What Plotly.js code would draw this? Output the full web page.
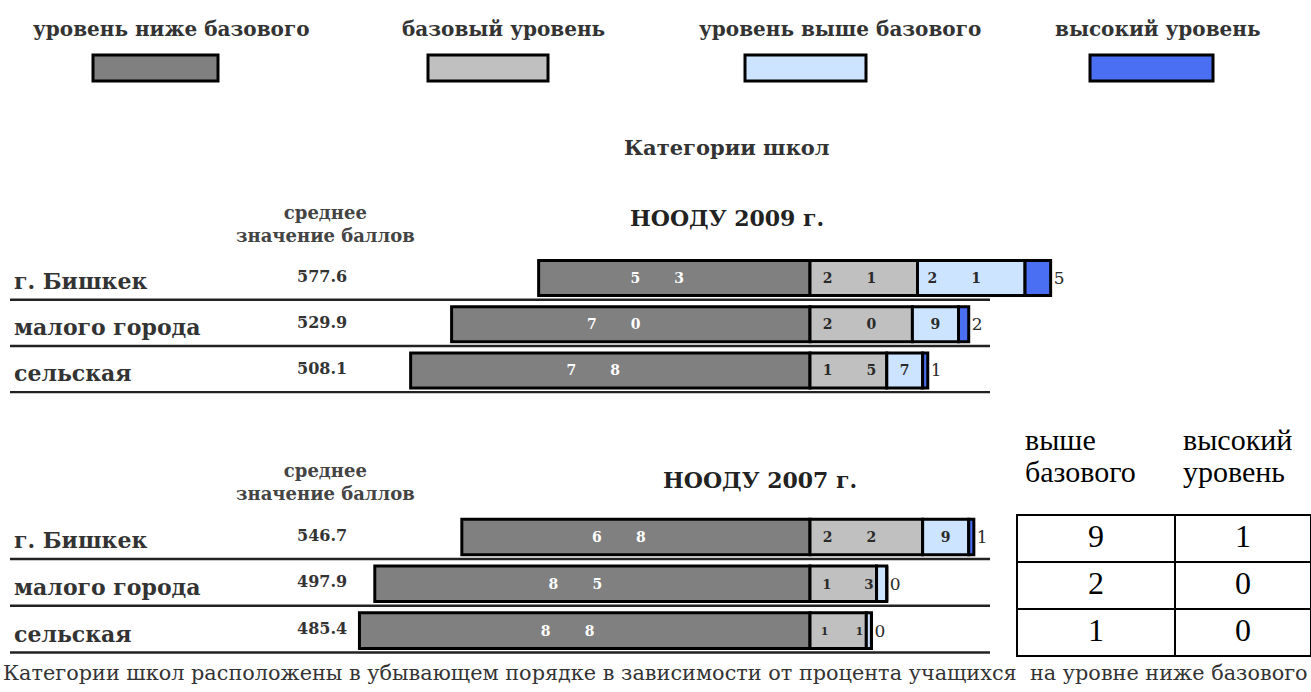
<!DOCTYPE html>
<html>
<head>
<meta charset="utf-8">
<script src="https://cdn.plot.ly/plotly-3.0.1.min.js"></script>
<style>html,body{margin:0;padding:0;background:#fff;}#chart{width:1311px;height:692px;}</style>
</head>
<body>
<div id="chart"></div>
<script>
// ---- data ----
const categories = ['г. Бишкек', 'малого города', 'сельская'];
const levelNames = ['уровень ниже базового', 'базовый уровень', 'уровень выше базового', 'высокий уровень'];
const below2009 = [53, 70, 78];
const basic2009 = [21, 20, 15];
const above2009 = [21, 9, 7];
const high2009 = [5, 2, 1];
const mean2009 = [577.6, 529.9, 508.1];
const below2007 = [68, 85, 88];
const basic2007 = [22, 13, 11];
const above2007 = [9, 2, 1];
const high2007 = [1, 0, 0];
const mean2007 = [546.7, 497.9, 485.4];
const tableHeader = [['выше', 'базового', ''], ['высокий', 'уровень', '']];

// ---- styling ----
const W = 1311, H = 692;
const px = x => x / W;
const py = y => 1 - y / H;
const colors = ['#808080', '#c0c0c0', '#cce4ff', '#4a6ff2'];
const serif = 'DejaVu Serif';
const dark = '#2a2a2a';
const GAP = '\u00a0'.repeat(7);
// digits spread apart, as in the original labels
const spreadMid = v => v < 3 ? '' : (String(v).length > 1 ? String(v).split('').join(GAP) + GAP : String(v));
const spreadStart = v => v < 3 ? '' : '\u00a0\u00a0' + String(v).split('').join(GAP);

function seriesTraces(below, basic, above, high, xa, ya) {
  const common = {type: 'bar', orientation: 'h', y: categories, xaxis: xa, yaxis: ya,
    width: 0.76, hoverinfo: 'skip', showlegend: false, cliponaxis: false, textangle: 0};
  const line = {color: '#000', width: 3};
  return [
    Object.assign({}, common, {x: below.map(v => -v), text: below.map(spreadMid), textposition: 'inside',
      insidetextanchor: 'middle', textfont: {family: serif, size: 14, color: '#fff', weight: 'bold'},
      marker: {color: colors[0], line: line}}),
    Object.assign({}, common, {x: basic, text: basic.map(spreadStart), textposition: 'inside',
      insidetextanchor: 'start', textfont: {family: serif, size: 14, color: dark, weight: 'bold'},
      marker: {color: colors[1], line: line}}),
    Object.assign({}, common, {x: above, text: above.map(spreadMid), textposition: 'inside',
      insidetextanchor: 'middle', textfont: {family: serif, size: 14, color: dark, weight: 'bold'},
      marker: {color: colors[2], line: line}}),
    Object.assign({}, common, {x: high, text: high.map(String), textposition: 'outside',
      textfont: {family: serif, size: 17, color: dark},
      outsidetextfont: {family: serif, size: 17, color: dark},
      marker: {color: colors[3], line: line}})
  ];
}

const data = []
  .concat(seriesTraces(below2009, basic2009, above2009, high2009, 'x', 'y'))
  .concat(seriesTraces(below2007, basic2007, above2007, high2007, 'x2', 'y2'));

data.push({
  type: 'table',
  domain: {x: [px(1017), 1], y: [py(662), py(419)]},
  columnwidth: [158, 136],
  header: {values: tableHeader, align: 'left',
    height: 32, fill: {color: 'rgba(0,0,0,0)'}, line: {color: 'rgba(0,0,0,0)', width: 0},
    font: {family: 'Liberation Serif', size: 30, color: '#000'}},
  cells: {values: [above2007, high2007], align: 'center', height: 47,
    fill: {color: '#fff'}, line: {color: '#000', width: 2},
    font: {family: 'Liberation Serif', size: 32, color: '#000'}}
});

// scale: 0% at x=810px, 5.12 px per percent
const xr = [-810 / 5.12, (W - 810) / 5.12];
const axX = () => ({domain: [0, 1], range: xr, visible: false, fixedrange: true});
const axY = (dom) => ({domain: dom, type: 'category', range: [2.5, -0.5], visible: false, fixedrange: true});

const annotations = [];
const shapes = [];
function note(x, y, text, font, extra) {
  annotations.push(Object.assign({xref: 'paper', yref: 'paper', x: px(x), y: py(y), text: text,
    xanchor: 'center', yanchor: 'middle', showarrow: false, font: font}, extra || {}));
}
// legend
const legendCenters = [171, 503, 840, 1158];
const swatches = [[93, 218], [428, 548], [745, 866], [1090, 1213]];
levelNames.forEach((n, i) => {
  note(legendCenters[i], 29, n, {family: serif, size: 20, color: '#333', weight: 'bold'});
  shapes.push({type: 'rect', xref: 'paper', yref: 'paper', x0: px(swatches[i][0]), x1: px(swatches[i][1]),
    y0: py(81), y1: py(55), fillcolor: colors[i], line: {color: '#000', width: 3}});
});
note(727, 148, 'Категории школ', {family: serif, size: 21, color: '#333', weight: 'bold'});

function panel(title, titleX, titleY, headY, means, ya) {
  note(titleX, titleY, title, {family: serif, size: 22, color: '#222', weight: 'bold'});
  note(325, headY, 'среднее<br>значение баллов', {family: serif, size: 18, color: '#444', weight: 'bold'},
    {align: 'center'});
  categories.forEach((c, i) => {
    annotations.push({xref: 'paper', yref: ya, x: px(12), xanchor: 'left', yanchor: 'middle', y: c, yshift: -3,
      text: c, showarrow: false, font: {family: serif, size: 22, color: '#333', weight: 'bold'}});
    annotations.push({xref: 'paper', yref: ya, x: px(322), xanchor: 'center', yanchor: 'middle', y: c, yshift: 2,
      text: means[i].toFixed(1), showarrow: false, font: {family: serif, size: 16, color: '#333', weight: 'bold'}});
    shapes.push({type: 'line', xref: 'paper', yref: ya, x0: px(10), x1: px(990), y0: i + 0.47, y1: i + 0.47,
      line: {color: '#222', width: 2.5}});
  });
}
panel('НООДУ 2009 г.', 727, 218, 224, mean2009, 'y');
panel('НООДУ 2007 г.', 760, 480, 482, mean2007, 'y2');

note(655, 673, 'Категории школ расположены в убывающем порядке в зависимости от процента учащихся  на уровне ниже базового',
  {family: serif, size: 20.8, color: '#333'});

const layout = {
  width: W, height: H, margin: {l: 0, r: 0, t: 0, b: 0},
  paper_bgcolor: '#fff', plot_bgcolor: 'rgba(0,0,0,0)',
  barmode: 'relative', showlegend: false,
  font: {family: serif},
  xaxis: Object.assign(axX(), {anchor: 'y'}), yaxis: Object.assign(axY([py(393.6), py(254.9)]), {anchor: 'x'}),
  xaxis2: Object.assign(axX(), {anchor: 'y2'}), yaxis2: Object.assign(axY([py(654), py(513.6)]), {anchor: 'x2'}),
  annotations: annotations, shapes: shapes
};

Plotly.newPlot('chart', data, layout, {displayModeBar: false, staticPlot: true});
</script>
</body>
</html>
